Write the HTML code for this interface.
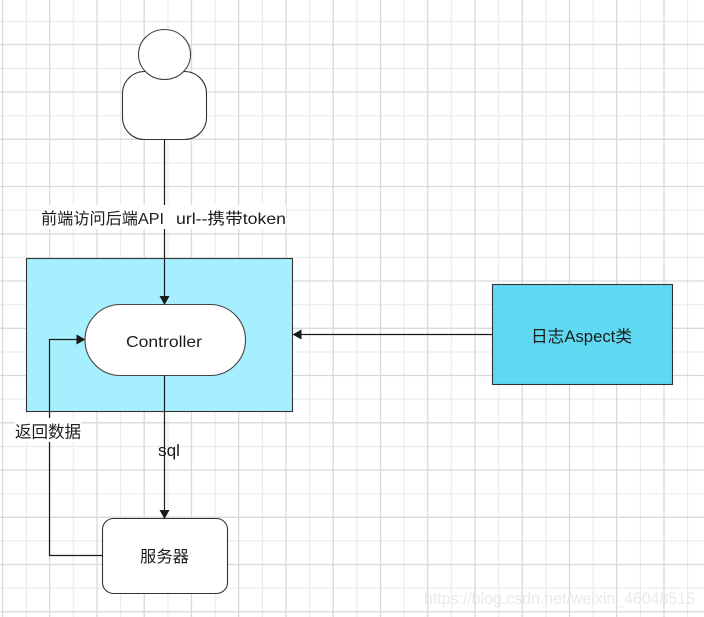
<!DOCTYPE html>
<html>
<head>
<meta charset="utf-8">
<style>
html,body{margin:0;padding:0;background:#fff;width:704px;height:617px;overflow:hidden}
svg{display:block}
text{font-family:"Liberation Sans","Noto Sans CJK SC",sans-serif;fill:#1c1c1c}
</style>
</head>
<body>
<svg width="704" height="617" viewBox="0 0 704 617" xmlns="http://www.w3.org/2000/svg">
<rect width="704" height="617" fill="#fff"/>
<g stroke="#ececec" stroke-width="1.2">
<path d="M26.5 0V617M73.4 0V617M120.6 0V617M167.9 0V617M215.1 0V617M262.4 0V617M309.6 0V617M356.9 0V617M404.1 0V617M451.4 0V617M498.6 0V617M545.9 0V617M593.1 0V617M640.4 0V617M687.6 0V617"/>
<path d="M0 21.5H704M0 68.5H704M0 115.7H704M0 163H704M0 210.2H704M0 257.5H704M0 304.7H704M0 352H704M0 399.2H704M0 446.5H704M0 493.7H704M0 540.9H704M0 588.2H704"/>
</g>
<g stroke="#d9d9d9" stroke-width="1.3">
<path d="M2.5 0V617M49.7 0V617M97 0V617M144.2 0V617M191.5 0V617M238.7 0V617M286 0V617M333.2 0V617M380.5 0V617M427.7 0V617M475 0V617M522.2 0V617M569.5 0V617M616.7 0V617M664 0V617"/>
<path d="M0 44.5H704M0 92H704M0 139.3H704M0 186.5H704M0 233.8H704M0 281H704M0 328.3H704M0 375.5H704M0 422.8H704M0 470H704M0 517.3H704M0 564.5H704M0 611.8H704"/>
</g>

<rect x="26.5" y="258.5" width="266" height="153" fill="#a5effe" stroke="#333" stroke-width="1.1"/>
<rect x="492.5" y="284.5" width="180" height="100" fill="#5fd9f2" stroke="#333" stroke-width="1.1"/>

<rect x="122.5" y="71.5" width="84" height="68" rx="22" ry="22" fill="#fff" stroke="#333" stroke-width="1.1"/>
<ellipse cx="164.5" cy="54.5" rx="26" ry="25" fill="#fff" stroke="#444" stroke-width="1.1"/>

<rect x="85" y="304.5" width="160.5" height="71" rx="35.5" ry="35.5" fill="#fff" stroke="#444" stroke-width="1.1"/>
<rect x="102.5" y="518.5" width="125" height="75" rx="11" ry="11" fill="#fff" stroke="#333" stroke-width="1.1"/>

<g fill="none" stroke="#1a1a1a" stroke-width="1.2">
<path d="M164.5 139.5V298"/>
<path d="M164.5 375.5V511"/>
<path d="M102.5 555.5H49.5V339.5H78"/>
<path d="M492.5 334.5H300"/>
</g>
<g fill="#1a1a1a">
<path d="M159.5 296H169.5L164.5 305Z"/>
<path d="M159.5 510H169.5L164.5 519Z"/>
<path d="M76.5 334.5V344.5L85.5 339.5Z"/>
<path d="M301.5 329.5V339.5L292.5 334.5Z"/>
</g>

<rect x="41" y="205" width="245" height="24" fill="#fff"/>
<text x="41" y="224" font-size="16" textLength="123" lengthAdjust="spacingAndGlyphs">前端访问后端API</text>
<text x="176" y="224" font-size="16" textLength="110" lengthAdjust="spacingAndGlyphs">url--携带token</text>

<text x="126" y="347" font-size="16" textLength="76" lengthAdjust="spacingAndGlyphs">Controller</text>

<text x="531" y="342" font-size="16.5" textLength="101" lengthAdjust="spacingAndGlyphs">日志Aspect类</text>

<rect x="15" y="418" width="66" height="24" fill="#fff"/>
<text x="15" y="437.5" font-size="16.5" textLength="66" lengthAdjust="spacingAndGlyphs">返回数据</text>

<text x="158" y="456" font-size="17" textLength="22" lengthAdjust="spacingAndGlyphs">sql</text>

<text x="140" y="562" font-size="16" textLength="49" lengthAdjust="spacingAndGlyphs">服务器</text>

<text x="424" y="604" font-size="17" textLength="271" lengthAdjust="spacingAndGlyphs" style="fill:#e2e2e2;opacity:.7">https://blog.csdn.net/weixin_46048515</text>
</svg>
</body>
</html>
